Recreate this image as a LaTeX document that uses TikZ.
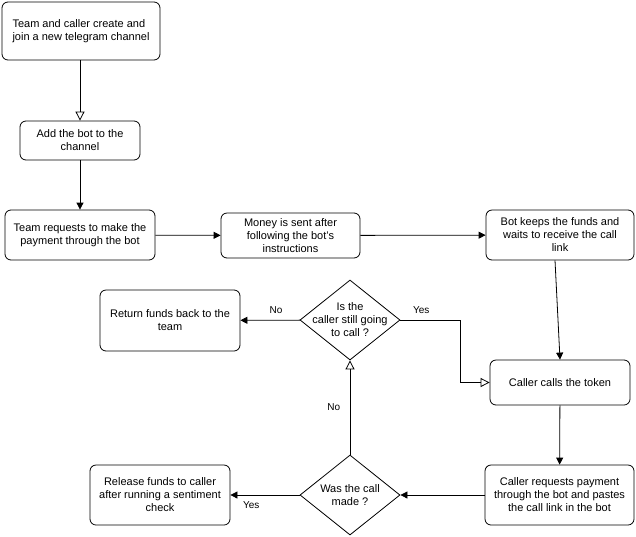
\documentclass[tikz,border=0pt]{standalone}
\usepackage{fontspec}
\setmainfont{Liberation Sans}
\usetikzlibrary{shapes.geometric,arrows.meta}
\begin{document}
\begin{tikzpicture}[x=1pt,y=-1pt,font=\fontsize{11}{13}\selectfont,
 box/.style={draw,rounded corners=6pt,align=center,inner sep=0pt,line width=0.8pt},
 dia/.style={draw,diamond,inner sep=0pt,minimum width=100pt,minimum height=80pt,line width=0.8pt},
 ar/.style={-{Triangle[length=7pt,width=7pt]},line width=0.8pt},
 oar/.style={-{Triangle[open,length=9pt,width=9pt]},line width=0.8pt},
 lab/.style={font=\fontsize{10}{12}\selectfont}]
\useasboundingbox (0,0) rectangle (636,536);
\node[box,minimum width=158pt,minimum height=58pt,align=left] (n1) at (81,31) {Team and caller create and\\join a new telegram channel};
\node[box,minimum width=120pt,minimum height=39pt] (n2) at (80,140.5) {Add the bot to the\\channel};
\node[box,minimum width=150pt,minimum height=50pt] (n3) at (80,235) {Team requests to make the\\payment through the bot};
\node[box,minimum width=139pt,minimum height=45pt] (n4) at (290.5,235.5) {Money is sent after\\following the bot's\\instructions};
\node[box,minimum width=148pt,minimum height=50pt] (n5) at (560,235) {Bot keeps the funds and\\waits to receive the call\\link};
\node[dia] (d1) at (350,320) {};
\node[align=center] (t1) at (d1) {Is the\\caller still going\\to call ?};
\node[box,minimum width=140pt,minimum height=61pt] (n7) at (170,320.5) {Return funds back to the\\team};
\node[box,minimum width=140pt,minimum height=45pt] (n8) at (560,382.5) {Caller calls the token};
\node[box,minimum width=149pt,minimum height=60pt] (n9) at (559.5,495) {Caller requests payment\\through the bot and pastes\\the call link in the bot};
\node[dia] (d2) at (350,495) {};
\node[align=center] (t2) at (d2) {Was the call\\made ?};
\node[box,minimum width=140pt,minimum height=60pt] (n11) at (160,495) {Release funds to caller\\after running a sentiment\\check};
\draw[oar] (n1.south -| n2.north) -- (n2.north);
\draw[ar] (n2) -- (n3);
\draw[ar] (n3) -- (n4);
\draw[ar] (n4) -- (n5);
\draw[ar] ([xshift=-5pt]n5.south) -- (n8.north);
\draw[ar] (n8) -- (n9);
\draw[ar] (n9) -- (d2);
\draw[ar] (d2) -- node[lab,pos=0.7,below=3pt]{Yes} (n11);
\draw[oar] (d2) -- node[lab,pos=0.5,left=6pt]{No} (d1);
\draw[ar] (d1) -- node[lab,pos=0.4,above=3pt]{No} (n7);
\coordinate (c1) at (460,320);
\draw[oar] (d1.east) -- node[lab,pos=0.35,above=3pt]{Yes} (c1) |- (n8.west);
\end{tikzpicture}
\end{document}
